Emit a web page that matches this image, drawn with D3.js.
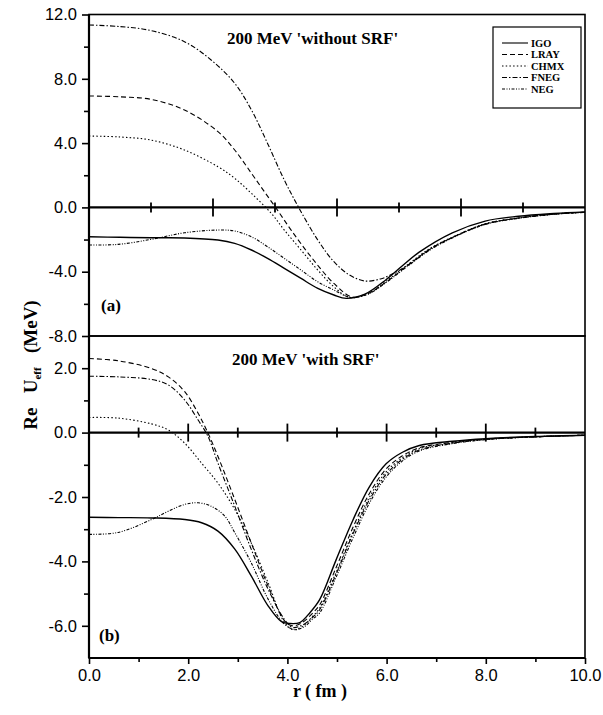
<!DOCTYPE html>
<html>
<head>
<meta charset="utf-8">
<script src="https://cdn.jsdelivr.net/npm/d3@7"></script>
<style>
  body { margin: 0; background: #fff; }
  .tick text { font-family: "Liberation Sans", Arial, sans-serif; font-size: 16.5px; fill: #000; }
  .tick line { stroke: #000; stroke-width: 1.6; }
  .serif { font-family: "Liberation Serif", "Times New Roman", serif; font-weight: bold; fill: #000; }
</style>
</head>
<body>
<div id="chart"></div>
<script>
// ---- data: panel (a) 200 MeV 'without SRF', r on its own 0..8 scale ----
var topIGO = [[0,-1.83],[0.5,-1.86],[1.0,-1.89],[1.54,-1.9],[2.08,-2.03],[2.35,-2.24],[2.62,-2.65],[2.88,-3.17],[3.15,-3.79],[3.42,-4.42],[3.69,-5.04],[3.95,-5.45],[4.15,-5.66],[4.45,-5.4],[4.79,-4.5],[5.05,-3.65],[5.32,-2.8],[5.86,-1.58],[6.39,-0.85],[6.93,-0.55],[7.5,-0.38],[8.0,-0.28]];
var topLRAY = [[0,6.93],[0.5,6.88],[1.0,6.72],[1.54,6.06],[2.08,4.71],[2.35,3.57],[2.62,2.12],[2.83,0.97],[3.04,-0.17],[3.26,-1.41],[3.58,-3.07],[3.95,-4.73],[4.25,-5.58],[4.5,-5.35],[4.79,-4.65],[5.16,-3.55],[5.5,-2.6],[5.86,-1.87],[6.39,-1.04],[6.93,-0.66],[7.5,-0.42],[8.0,-0.3]];
var topCHMX = [[0,4.44],[0.5,4.38],[1.0,4.19],[1.54,3.57],[2.08,2.53],[2.35,1.81],[2.62,0.87],[2.94,-0.37],[3.15,-1.41],[3.42,-2.65],[3.69,-3.9],[3.95,-4.94],[4.2,-5.6],[4.5,-5.38],[4.79,-4.6],[5.16,-3.5],[5.5,-2.55],[5.86,-1.85],[6.39,-1.02],[6.93,-0.65],[7.5,-0.41],[8.0,-0.3]];
var topFNEG = [[0,11.35],[0.5,11.25],[1.0,11.0],[1.54,10.31],[1.97,9.17],[2.35,7.72],[2.62,6.06],[2.88,3.98],[3.15,1.7],[3.39,-0.06],[3.69,-2.03],[3.95,-3.38],[4.2,-4.2],[4.45,-4.58],[4.7,-4.45],[4.89,-4.15],[5.16,-3.55],[5.5,-2.6],[5.86,-1.87],[6.39,-1.04],[6.93,-0.66],[7.5,-0.42],[8.0,-0.3]];
var topNEG = [[0,-2.34],[0.47,-2.3],[1.0,-1.99],[1.54,-1.58],[2.08,-1.41],[2.35,-1.47],[2.62,-1.83],[2.88,-2.45],[3.15,-3.17],[3.42,-3.9],[3.69,-4.63],[3.95,-5.14],[4.22,-5.6],[4.5,-5.4],[4.79,-4.68],[5.16,-3.6],[5.5,-2.65],[5.86,-1.9],[6.39,-1.06],[6.93,-0.68],[7.5,-0.43],[8.0,-0.31]];

// ---- data: panel (b) 200 MeV 'with SRF', r 0..10 fm ----
var botIGO = [[0,-2.63],[0.6,-2.64],[1.26,-2.65],[1.93,-2.7],[2.27,-2.8],[2.6,-3.06],[2.94,-3.62],[3.27,-4.45],[3.61,-5.38],[3.88,-5.87],[4.05,-5.93],[4.25,-5.9],[4.45,-5.6],[4.65,-5.19],[4.98,-3.96],[5.32,-2.72],[5.65,-1.69],[5.99,-0.97],[6.32,-0.61],[6.66,-0.4],[7.33,-0.27],[8.0,-0.19],[9.0,-0.12],[10,-0.08]];
var botLRAY = [[0,2.3],[0.59,2.23],[1.26,1.99],[1.6,1.73],[1.93,1.27],[2.2,0.6],[2.4,-0.02],[2.6,-0.74],[2.94,-2.08],[3.27,-3.42],[3.61,-4.76],[3.94,-5.84],[4.1,-6.0],[4.3,-5.9],[4.5,-5.62],[4.65,-5.35],[4.98,-4.2],[5.32,-2.95],[5.65,-1.9],[5.99,-1.13],[6.32,-0.72],[6.66,-0.47],[7.33,-0.3],[8.0,-0.2],[9.0,-0.13],[10,-0.08]];
var botCHMX = [[0,0.47],[0.59,0.45],[1.26,0.27],[1.6,0.08],[1.93,-0.33],[2.27,-0.95],[2.6,-1.57],[2.94,-2.39],[3.27,-3.42],[3.61,-4.66],[3.94,-5.89],[4.12,-6.12],[4.32,-6.0],[4.5,-5.72],[4.65,-5.45],[4.98,-4.35],[5.32,-3.1],[5.65,-2.02],[5.99,-1.22],[6.32,-0.78],[6.66,-0.5],[7.33,-0.31],[8.0,-0.21],[9.0,-0.13],[10,-0.08]];
var botFNEG = [[0,1.75],[0.6,1.73],[1.26,1.65],[1.6,1.48],[1.93,1.01],[2.2,0.39],[2.4,-0.12],[2.6,-0.95],[2.94,-2.29],[3.27,-3.62],[3.61,-4.86],[3.94,-5.8],[4.1,-6.05],[4.3,-5.98],[4.5,-5.75],[4.65,-5.5],[4.98,-4.4],[5.32,-3.15],[5.65,-2.1],[5.99,-1.3],[6.32,-0.83],[6.66,-0.54],[7.33,-0.33],[8.0,-0.21],[9.0,-0.13],[10,-0.08]];
var botNEG = [[0,-3.16],[0.59,-3.1],[1.26,-2.7],[1.6,-2.44],[1.93,-2.23],[2.2,-2.18],[2.47,-2.29],[2.74,-2.6],[2.94,-3.11],[3.27,-4.04],[3.61,-5.17],[3.94,-5.95],[4.15,-6.12],[4.35,-6.02],[4.5,-5.8],[4.65,-5.6],[4.98,-4.5],[5.32,-3.28],[5.65,-2.2],[5.99,-1.38],[6.32,-0.88],[6.66,-0.57],[7.33,-0.34],[8.0,-0.22],[9.0,-0.13],[10,-0.08]];

var seriesNames = ['IGO', 'LRAY', 'CHMX', 'FNEG', 'NEG'];
var dashes = [null, '5,3', '1.5,2.2', '5,2,1.5,2', '3,1.5,1,1.5,1,1.5'];

var topYTicks = [-8, -4, 0, 4, 8, 12];
var topYMinor = [-6, -2, 2, 6, 10];
var botYTicks = [-6, -4, -2, 0, 2];
var botYMinor = [-5, -3, -1, 1];
var xTicks = [0, 2, 4, 6, 8, 10];
var xMinor = [1, 3, 5, 7, 9];

var width = 603, height = 715;
var left = 89, right = 585;

var svg = d3.select('#chart').append('svg')
    .attr('width', width)
    .attr('height', height);

var xTop = d3.scaleLinear().domain([0, 8]).range([left, right]);
var xBot = d3.scaleLinear().domain([0, 10]).range([left, right]);
var yTop = d3.scaleLinear().domain([-8, 12]).range([336, 14.5]);
var yBot = d3.scaleLinear().domain([-7, 3]).range([658, 336]);

var fmt = function (d) { return d.toFixed(1); };

// frames
[yTop, yBot].forEach(function (y) {
    svg.append('rect')
        .attr('x', left).attr('y', y.range()[1])
        .attr('width', right - left).attr('height', y.range()[0] - y.range()[1])
        .attr('fill', 'none').attr('stroke', '#000').attr('stroke-width', 1.6);
});

function yAxis(y, major, minor) {
    var g = svg.append('g').attr('transform', 'translate(' + left + ',0)');
    g.call(d3.axisLeft(y).tickValues(major).tickFormat(fmt).tickSize(7).tickPadding(5));
    g.select('.domain').remove();
    var m = svg.append('g').attr('transform', 'translate(' + left + ',0)');
    m.call(d3.axisLeft(y).tickValues(minor).tickFormat('').tickSize(5));
    m.select('.domain').remove();
}
yAxis(yTop, topYTicks, topYMinor);
yAxis(yBot, botYTicks, botYMinor);

// left axis line (thick)
svg.append('line').attr('x1', left).attr('x2', left)
    .attr('y1', yTop.range()[1]).attr('y2', yBot.range()[0])
    .attr('stroke', '#000').attr('stroke-width', 2.2);

// bottom x axis
var gx = svg.append('g').attr('transform', 'translate(0,' + yBot.range()[0] + ')');
gx.call(d3.axisBottom(xBot).tickValues(xTicks).tickFormat(fmt).tickSize(6).tickPadding(5));
gx.select('.domain').remove();
var gxm = svg.append('g').attr('transform', 'translate(0,' + yBot.range()[0] + ')');
gxm.call(d3.axisBottom(xBot).tickValues(xMinor).tickFormat('').tickSize(4));
gxm.select('.domain').remove();
svg.append('line').attr('x1', left).attr('x2', right)
    .attr('y1', yBot.range()[0]).attr('y2', yBot.range()[0])
    .attr('stroke', '#000').attr('stroke-width', 2.2);

// zero lines with crossing ticks
function zeroAxis(x, y, n) {
    var y0 = y(0);
    svg.append('line').attr('x1', left).attr('x2', right)
        .attr('y1', y0).attr('y2', y0)
        .attr('stroke', '#000').attr('stroke-width', 2.2);
    svg.append('g').selectAll('line')
        .data(d3.range(1, n))
        .enter().append('line')
        .attr('x1', function (d) { return x(d); })
        .attr('x2', function (d) { return x(d); })
        .attr('y1', function (d) { return y0 - (d % 2 === 0 ? 9 : 5); })
        .attr('y2', function (d) { return y0 + (d % 2 === 0 ? 9 : 5); })
        .attr('stroke', '#000').attr('stroke-width', 1.8);
}
zeroAxis(xTop, yTop, 8);
zeroAxis(xBot, yBot, 10);

// curves
function drawCurves(x, y, list) {
    var line = d3.line()
        .x(function (d) { return x(d[0]); })
        .y(function (d) { return y(d[1]); })
        .curve(d3.curveCatmullRom.alpha(0.5));
    svg.append('g').selectAll('path')
        .data(list)
        .enter().append('path')
        .attr('d', function (d) { return line(d); })
        .attr('fill', 'none')
        .attr('stroke', '#000')
        .attr('stroke-width', function (d, i) { return i === 0 ? 1.4 : 1.1; })
        .attr('stroke-dasharray', function (d, i) { return dashes[i]; });
}
drawCurves(xTop, yTop, [topIGO, topLRAY, topCHMX, topFNEG, topNEG]);
drawCurves(xBot, yBot, [botIGO, botLRAY, botCHMX, botFNEG, botNEG]);

// titles and panel labels
svg.append('text').attr('class', 'serif').attr('x', 227).attr('y', 44)
    .attr('font-size', 17).text("200 MeV 'without SRF'");
svg.append('text').attr('class', 'serif').attr('x', 232).attr('y', 365)
    .attr('font-size', 17).text("200 MeV 'with SRF'");
svg.append('text').attr('class', 'serif').attr('x', 101).attr('y', 311)
    .attr('font-size', 17).text('(a)');
svg.append('text').attr('class', 'serif').attr('x', 99).attr('y', 641)
    .attr('font-size', 17).text('(b)');

// legend
var lg = svg.append('g');
lg.append('rect').attr('x', 493).attr('y', 27).attr('width', 88).attr('height', 81)
    .attr('fill', '#fff').attr('stroke', '#000').attr('stroke-width', 1.2);
var li = lg.selectAll('g.item').data(seriesNames).enter().append('g')
    .attr('transform', function (d, i) { return 'translate(0,' + (43 + i * 11.5) + ')'; });
li.append('line').attr('x1', 502).attr('x2', 528).attr('y1', 0).attr('y2', 0)
    .attr('stroke', '#000').attr('stroke-width', 1.1)
    .attr('stroke-dasharray', function (d, i) { return dashes[i]; });
li.append('text').attr('class', 'serif').attr('x', 531).attr('y', 3.5)
    .attr('font-size', 10.5).text(function (d) { return d; });

// axis titles
svg.append('text').attr('class', 'serif').attr('x', 320).attr('y', 697)
    .attr('text-anchor', 'middle').attr('font-size', 18).text('r ( fm )');
var yl = svg.append('text').attr('class', 'serif')
    .attr('transform', 'translate(37,365) rotate(-90)')
    .attr('text-anchor', 'middle').attr('font-size', 19);
yl.append('tspan').text('Re\u00a0\u00a0\u00a0U');
yl.append('tspan').attr('font-size', 11).attr('dy', 4).text('eff');
yl.append('tspan').attr('dy', -4).text('\u00a0\u00a0\u00a0(MeV)');
</script>
</body>
</html>
